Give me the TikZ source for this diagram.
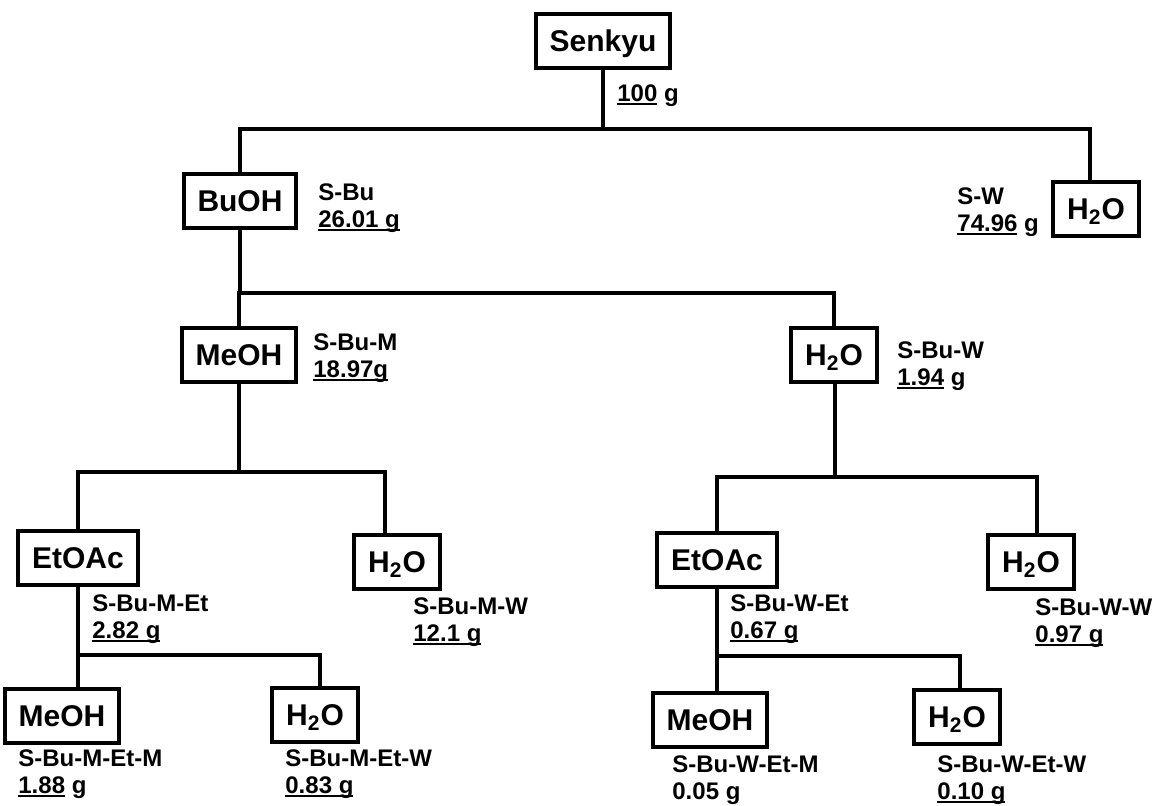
\documentclass[tikz,border=0pt]{standalone}
\usepackage{fontspec}
\setmainfont{Liberation Sans}
\usepackage{tikz}
\usetikzlibrary{positioning,calc}
\newcommand\ulnum[1]{\setbox0=\hbox{#1}\rlap{\rule[-1.6pt]{\wd0}{0.8pt}}\box0\relax}
\begin{document}
\begin{tikzpicture}[
  x=0.5pt, y=-0.5pt,
  solvent/.style={draw, line width=2pt, inner xsep=7pt, inner ysep=0pt,
                  text height=11pt, text depth=0.5pt,
                  minimum height=27pt, font=\bfseries\fontsize{15}{18}\selectfont},
  frac/.style={anchor=west, align=left, inner sep=0pt,
               font=\bfseries\fontsize{12}{13.5}\selectfont},
  link/.style={line width=2pt}
]
  \useasboundingbox (0,0) rectangle (1158,806);
  % extraction boxes
  \node[solvent] (senkyu) at (603,41) {Senkyu};
  \node[solvent] (buoh) at (240,201) {BuOH};
  \node[solvent] (wtop) at (1096,209) {H\textsubscript{2}O};
  \node[solvent] (meoh) at (239,355) {MeOH};
  \node[solvent] (wbu) at (834,355) {H\textsubscript{2}O};
  \node[solvent] (etm) at (78,558) {EtOAc};
  \node[solvent] (wm) at (397,562) {H\textsubscript{2}O};
  \node[solvent] (etw) at (717,560) {EtOAc};
  \node[solvent] (ww) at (1031,562) {H\textsubscript{2}O};
  \node[solvent] (metm) at (62,716) {MeOH};
  \node[solvent] (wetm) at (315,715) {H\textsubscript{2}O};
  \node[solvent] (metw) at (710,720) {MeOH};
  \node[solvent] (wetw) at (957,717) {H\textsubscript{2}O};
  % fractions and yields
  \node[frac] (lsenkyu) at (617,96) {\ulnum{100} g};
  \node[frac] (lbuoh) at (318,208) {S-Bu\\\ulnum{26.01 g}};
  \node[frac] (lwtop) at (957,212) {S-W\\\ulnum{74.96} g};
  \node[frac] (lmeoh) at (313,358) {S-Bu-M\\\ulnum{18.97g}};
  \node[frac] (lwbu) at (897,366) {S-Bu-W\\\ulnum{1.94} g};
  \node[frac] (letm) at (92,619) {S-Bu-M-Et\\\ulnum{2.82 g}};
  \node[frac] (lwm) at (413,622) {S-Bu-M-W\\\ulnum{12.1 g}};
  \node[frac] (letw) at (730,619) {S-Bu-W-Et\\\ulnum{0.67 g}};
  \node[frac] (lww) at (1035,623) {S-Bu-W-W\\\ulnum{0.97 g}};
  \node[frac] (lmetm) at (18,774) {S-Bu-M-Et-M\\\ulnum{1.88} g};
  \node[frac] (lwetm) at (285,774) {S-Bu-M-Et-W\\\ulnum{0.83 g}};
  \node[frac] (lmetw) at (672,780) {S-Bu-W-Et-M\\0.05 g};
  \node[frac] (lwetw) at (937,780) {S-Bu-W-Et-W\\\ulnum{0.10 g}};
  % branch points
  \coordinate (j0) at (603,129);
  \coordinate (j1) at (240,293);
  \coordinate (j2) at (239,472);
  \coordinate (j3) at (835,477);
  \coordinate (j4) at (78,655);
  \coordinate (j5) at (717,656);
  \draw[link] (senkyu) -- (j0);
  \draw[link] (buoh.north) |- (j0) -| ([xshift=-3pt]wtop.north);
  \draw[link] (buoh) -- (j1);
  \draw[link] (meoh.north) |- (j1) -| (wbu.north);
  \draw[link] (meoh) -- (j2);
  \draw[link] (etm.north) |- (j2) -| ([xshift=-6pt]wm.north);
  \draw[link] (wbu.south -| j3) -- (j3);
  \draw[link] (etw.north) |- (j3) -| ([xshift=3pt]ww.north);
  \draw[link] (etm.south) -- (etm.south |- metm.north);
  \draw[link] (j4) -| ([xshift=2.5pt]wetm.north);
  \draw[link] (etw.south) -- (etw.south |- metw.north);
  \draw[link] (j5) -| ([xshift=1.5pt]wetw.north);
\end{tikzpicture}
\end{document}
